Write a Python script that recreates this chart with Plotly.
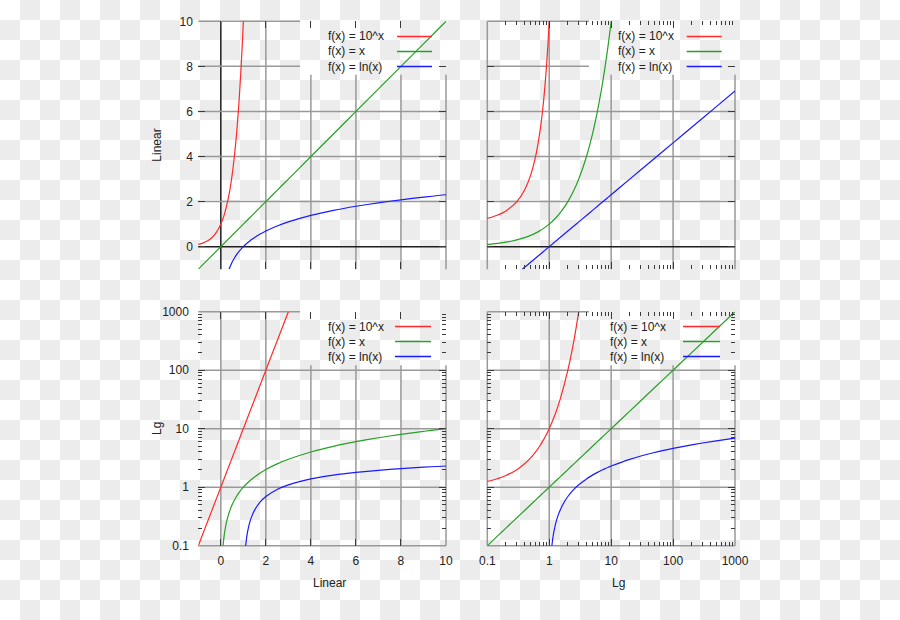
import base64
import math
import plotly.graph_objects as go

# ---------------- data ----------------
exp_x = [-1, -0.8, -0.6, -0.4, -0.2, 0, 0.1, 0.15, 0.2, 0.3, 0.4, 0.5, 0.6, 0.7,
         0.8, 0.9, 1.0, 1.25, 1.5, 2.0, 2.5, 3.0]
exp_y = [0.1, 0.1585, 0.2512, 0.3981, 0.631, 1.0, 1.259, 1.413, 1.585, 1.995, 2.512,
         3.162, 3.981, 5.012, 6.31, 7.943, 10.0, 17.78, 31.62, 100.0, 316.2, 1000.0]

id_x = [-1, 0, 0.1, 0.12, 0.15, 0.2, 0.25, 0.3, 0.4, 0.5, 0.6, 0.7, 0.8, 1, 1.25,
        1.5, 2, 2.5, 3, 4, 5, 6, 7, 8, 9, 10, 20, 50, 100, 200, 500, 1000]
id_y = [-1, 0, 0.1, 0.12, 0.15, 0.2, 0.25, 0.3, 0.4, 0.5, 0.6, 0.7, 0.8, 1, 1.25,
        1.5, 2, 2.5, 3, 4, 5, 6, 7, 8, 9, 10, 20, 50, 100, 200, 500, 1000]

ln_x = [0.3679, 0.4, 0.45, 0.5, 0.6, 0.7, 0.8, 0.9, 1.0, 1.1, 1.12, 1.15, 1.2, 1.3,
        1.4, 1.5, 1.75, 2, 2.5, 3, 4, 5, 6, 7, 8, 9, 10, 20, 50, 100, 200, 500, 1000]
ln_y = [-1, -0.916, -0.799, -0.693, -0.511, -0.357, -0.223, -0.105, 0, 0.0953, 0.1133,
        0.1398, 0.1823, 0.2624, 0.3365, 0.4055, 0.5596, 0.6931, 0.9163, 1.0986, 1.3863,
        1.6094, 1.7918, 1.9459, 2.0794, 2.1972, 2.3026, 2.9957, 3.912, 4.6052, 5.2983,
        6.2146, 6.9078]

series_names = ["f(x) = 10^x", "f(x) = x", "f(x) = ln(x)"]
series_colors = ["#ff2a2a", "#26a026", "#1a1aff"]

lin_ticks = [0, 2, 4, 6, 8, 10]
lin_text = ["0", "2", "4", "6", "8", "10"]
log_ticks = [0.1, 1, 10, 100, 1000]
log_text = ["0.1", "1", "10", "100", "1000"]
log_minor = [m * 10.0 ** e for e in range(-1, 3) for m in range(2, 10)]

axis_titles = {"lin": "Linear", "log": "Lg"}

# ---------------- layout geometry (pixels) ----------------
W, H = 900, 620
COLS = [(198.3, 446.0), (487.3, 735.0)]
ROWS = [(21.3, 269.2), (311.7, 545.7)]

def px(x):
    return x / W

def py(y):
    return 1 - y / H

# subplot: (col, row, xtype, ytype)
subplots = [(0, 0, "lin", "lin"), (1, 0, "log", "lin"),
            (0, 1, "lin", "log"), (1, 1, "log", "log")]

def sfx(i):
    return "" if i == 1 else str(i)

FONT = "Liberation Sans, Arial, sans-serif"
TXT = "#222222"
GRID = "#999999"
ZERO = "#1e1e1e"
TICK = "#3a3a3a"

fig = go.Figure()

data = [(exp_x, exp_y), (id_x, id_y), (ln_x, ln_y)]
for i, (c, r, xt, yt) in enumerate(subplots, start=1):
    for (xs, ys), name, col in zip(data, series_names, series_colors):
        fig.add_trace(go.Scatter(
            x=xs, y=ys, mode="lines", name=name, showlegend=False,
            line=dict(color=col, width=1.2, shape="spline", smoothing=0.6),
            xaxis=f"x{sfx(i)}", yaxis=f"y{sfx(i)}", hoverinfo="skip"))


def axis_dict(kind, domain, anchor, show_labels):
    d = dict(domain=domain, anchor=anchor, showgrid=False, zeroline=False,
             automargin=False,
             showline=True, linecolor="rgba(0,0,0,0)", mirror="ticks",
             ticks="inside", ticklen=7, tickwidth=1.2, tickcolor=TICK,
             tickmode="array", showticklabels=show_labels,
             tickfont=dict(family=FONT, size=12, color=TXT))
    if kind == "lin":
        d.update(type="linear", range=[-1, 10], tickvals=lin_ticks, ticktext=lin_text)
    else:
        d.update(type="log", range=[-1, 3], tickvals=log_ticks, ticktext=log_text,
                 minor=dict(tickmode="array", tickvals=log_minor, ticks="inside",
                            ticklen=4, tickwidth=1, tickcolor=TICK, showgrid=False))
    return d

layout_axes = {}
for i, (c, r, xt, yt) in enumerate(subplots, start=1):
    xd = [px(COLS[c][0]), px(COLS[c][1])]
    yd = [py(ROWS[r][1]), py(ROWS[r][0])]
    s = sfx(i)
    layout_axes[f"xaxis{s}"] = axis_dict(xt, xd, f"y{s}", r == 1)
    layout_axes[f"yaxis{s}"] = axis_dict(yt, yd, f"x{s}", c == 0)
    if c == 0:
        layout_axes[f"yaxis{s}"]["ticklabelstandoff"] = 2 if yt == "lin" else 6
    if r == 1:
        layout_axes[f"xaxis{s}"]["ticklabelstandoff"] = 4

fig.update_layout(template="none", **layout_axes)

# ---------------- grid with a gap under the key ----------------
KEY_LEFT_PX = 146.0   # key box width measured from the plot's right edge
KEY_H_PX = 53.5       # key box height measured from the plot top


def frac(kind, v):
    if kind == "lin":
        return (v + 1) / 11.0
    return (math.log10(v) + 1) / 4.0

shapes = []
for i, (c, r, xt, yt) in enumerate(subplots, start=1):
    wpx = COLS[c][1] - COLS[c][0]
    hpx = ROWS[r][1] - ROWS[r][0]
    kx = 1 - KEY_LEFT_PX / wpx
    ky = 1 - KEY_H_PX / hpx
    xref_d, yref_d = f"x{sfx(i)} domain", f"y{sfx(i)} domain"
    xg = lin_ticks if xt == "lin" else log_ticks
    yg = lin_ticks if yt == "lin" else log_ticks
    for v in xg:
        f = frac(xt, v)
        zero = (xt == "lin" and v == 0 and i == 1)
        top = ky if f >= kx - 1e-6 else 1
        shapes.append(dict(type="line", xref=xref_d, yref=yref_d, x0=f, x1=f, y0=0, y1=top,
                           layer="below",
                           line=dict(color=ZERO if zero else GRID, width=1.5)))
    for v in yg:
        f = frac(yt, v)
        zero = (yt == "lin" and v == 0)
        right = kx if f >= ky - 1e-6 else 1
        shapes.append(dict(type="line", xref=xref_d, yref=yref_d, x0=0, x1=right, y0=f, y1=f,
                           layer="below",
                           line=dict(color=ZERO if zero else GRID, width=1.5)))

# ---------------- key (text left, sample right) ----------------
key_pos = [  # text_left_px, sample_x0_px, sample_x1_px, first row y px
    (326.0, 397.0, 432.0, 36.5),
    (615.7, 686.7, 721.7, 36.5),
    (325.7, 395.0, 431.0, 326.5),
    (608.3, 683.0, 720.0, 326.5),
]
annotations = []
for (tx, sx0, sx1, y0) in key_pos:
    for k, (name, col) in enumerate(zip(series_names, series_colors)):
        yy = y0 + 15 * k
        annotations.append(dict(text=name, x=px(tx), y=py(yy), xref="paper", yref="paper",
                                xanchor="left", yanchor="middle", showarrow=False,
                                font=dict(family=FONT, size=12, color=TXT)))
        shapes.append(dict(type="line", xref="paper", yref="paper", x0=px(sx0), x1=px(sx1),
                           y0=py(yy), y1=py(yy), line=dict(color=col, width=1.3)))

# ---------------- axis titles ----------------
title_pos = [
    (axis_titles["lin"], 156.7, 145.0, -90),
    (axis_titles["log"], 156.5, 428.5, -90),
    (axis_titles["lin"], 329.5, 583.3, 0),
    (axis_titles["log"], 618.3, 583.3, 0),
]
for t, x, y, ang in title_pos:
    annotations.append(dict(text=t, x=px(x), y=py(y), xref="paper", yref="paper",
                            xanchor="center", yanchor="middle", showarrow=False,
                            textangle=ang, font=dict(family=FONT, size=12, color=TXT)))

# ---------------- checkerboard background ----------------
svg = ("<svg xmlns='http://www.w3.org/2000/svg' width='900' height='620'>"
       "<defs><pattern id='p' width='40' height='40' patternUnits='userSpaceOnUse'>"
       "<rect width='40' height='40' fill='#ffffff'/>"
       "<rect x='20' y='0' width='20' height='20' fill='#ececec'/>"
       "<rect x='0' y='20' width='20' height='20' fill='#ececec'/>"
       "</pattern></defs><rect width='900' height='620' fill='url(#p)'/></svg>")
src = "data:image/svg+xml;base64," + base64.b64encode(svg.encode()).decode()

fig.update_layout(
    width=W, height=H, margin=dict(l=0, r=0, t=0, b=0, pad=0),
    paper_bgcolor="#ffffff", plot_bgcolor="rgba(0,0,0,0)",
    showlegend=False, shapes=shapes, annotations=annotations,
    images=[dict(source=src, xref="paper", yref="paper", x=0, y=1, sizex=1, sizey=1,
                 xanchor="left", yanchor="top", sizing="stretch", layer="below")],
    font=dict(family=FONT, size=12, color=TXT),
)

fig.write_html(
    "out.html",
    config={"displayModeBar": False},
    post_script="document.body.style.margin='0px';document.body.style.overflow='hidden';",
)
